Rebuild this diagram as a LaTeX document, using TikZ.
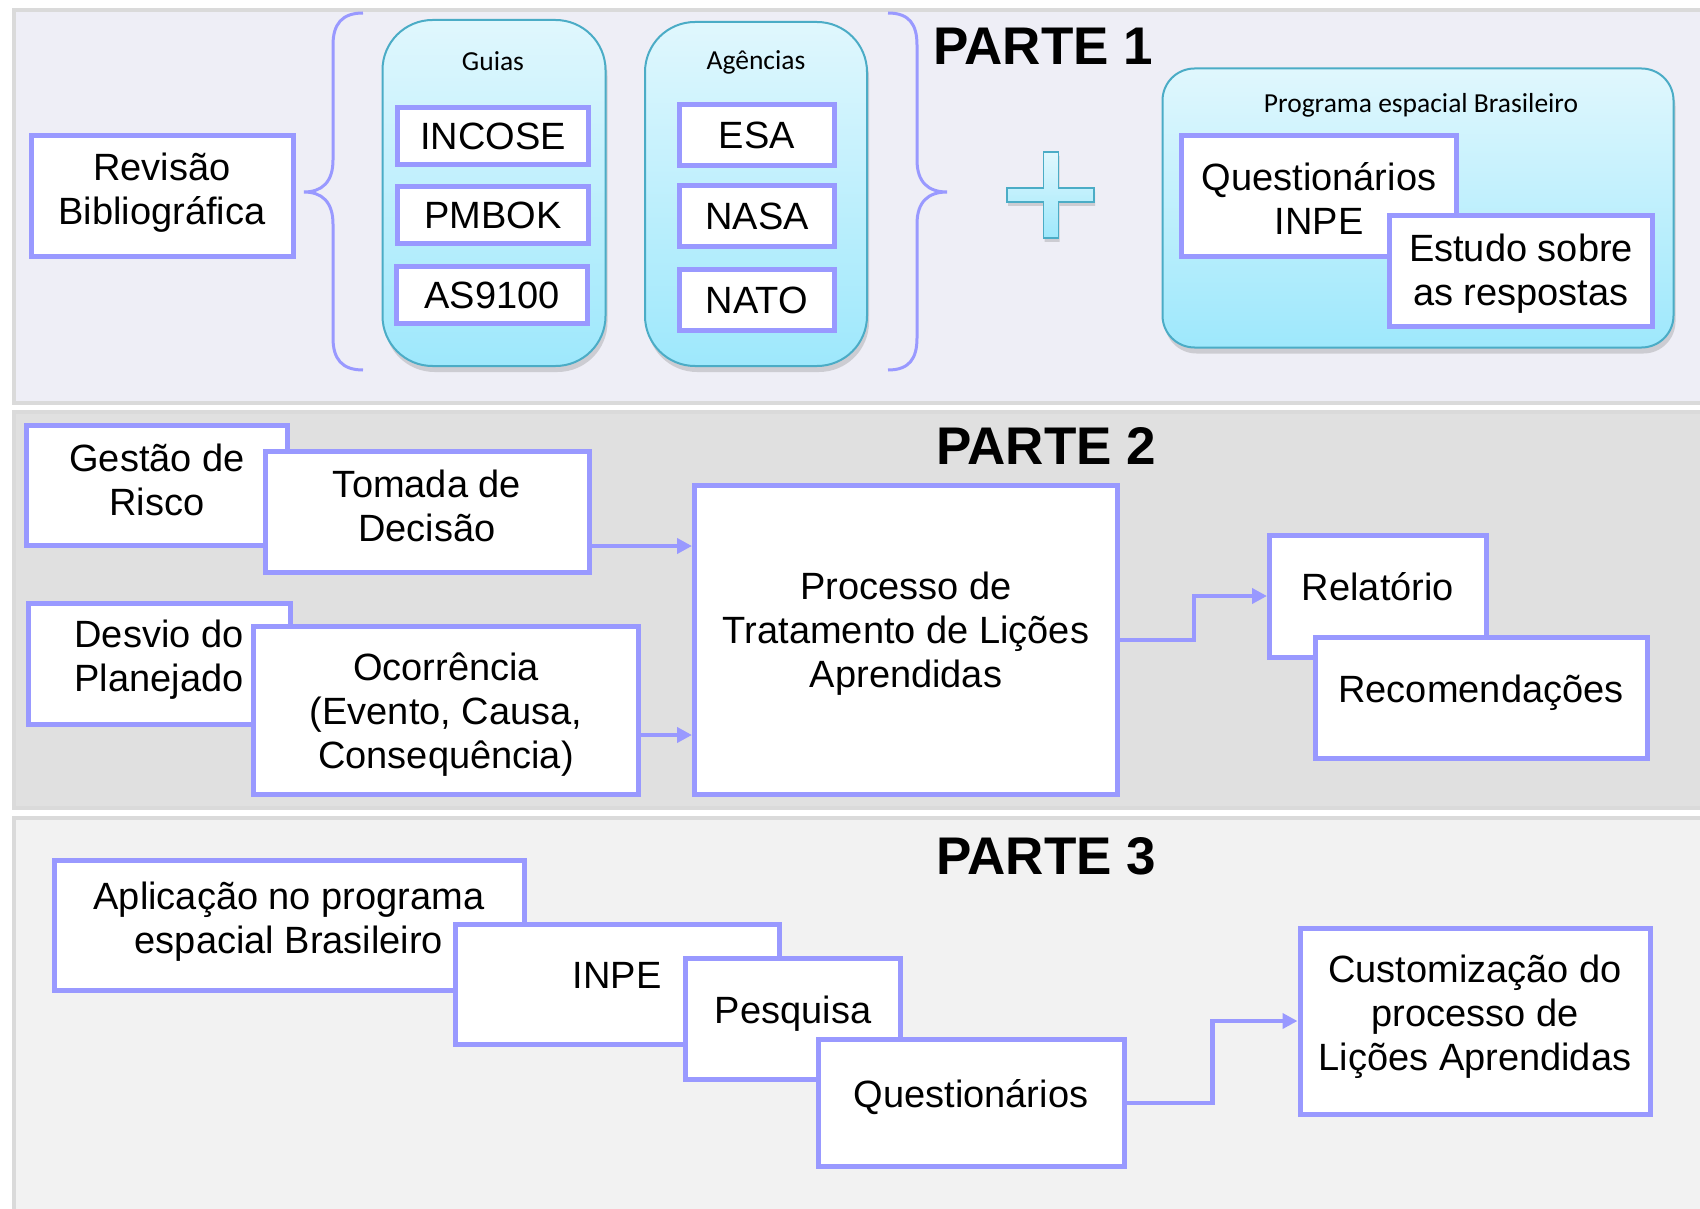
\documentclass[tikz,border=0pt]{standalone}
\usepackage{fontspec}
\setmainfont{Liberation Sans}
\newfontfamily\calibri{Carlito}
\usetikzlibrary{arrows.meta,shadows,positioning}

\definecolor{lila}{RGB}{153,153,255}
\definecolor{borda}{RGB}{75,172,198}
\definecolor{cianoA}{RGB}{224,247,253}
\definecolor{cianoB}{RGB}{158,232,252}
\definecolor{fundoA}{RGB}{238,238,246}
\definecolor{fundoB}{RGB}{224,224,224}
\definecolor{fundoC}{RGB}{242,242,242}
\definecolor{cinza}{RGB}{218,218,218}

\tikzset{
	bloco/.style = {draw=lila, line width=5pt, fill=white, inner sep=0pt, align=center,
		font=\fontsize{38}{44}\selectfont},
	alto/.style = {execute at begin node={\rule{0pt}{#1}}},
	alto/.default = 36pt,
	fundo/.style = {execute at end node={\rule[-#1]{0pt}{#1}}},
	fundo/.default = 27pt,
	caixa/.style = {bloco, alto, fundo},
	grupo/.style = {draw=borda, line width=2pt, top color=cianoA, bottom color=cianoB,
		drop shadow={shadow xshift=2pt, shadow yshift=-6pt, opacity=.3}},
	seta/.style = {lila, line width=4.5pt, -{Triangle[length=15pt,width=15pt]}},
	parte/.style = {font=\bfseries\fontsize{53}{60}\selectfont},
	chave/.style = {lila, line width=3pt},
	painel/.style = {draw=cinza, line width=4pt},
	rotulo/.style = {font=\calibri\fontsize{27.5}{32}\selectfont}
}

\begin{document}
\begin{tikzpicture}[x=1pt, y=-1pt]
	\clip (0,0) rectangle (1700,1209);
	\fill[white] (0,0) rectangle (1700,1209);
	\draw[painel, fill=fundoA] (14,10) rectangle (1730,403);
	\draw[painel, fill=fundoB] (14,412) rectangle (1730,808);
	\draw[painel, fill=fundoC] (14,818) rectangle (1730,1240);

	% parte 1
	\node[bloco, fundo=15pt, minimum width=262, minimum height=121] (revisao) at (162,196) {Revis\~ao\\Bibliogr\'afica};
	\draw[chave] (363,13) .. controls (342,13) and (333,24) .. (333,45) -- (333,160)
		.. controls (333,182) and (322,192) .. (304,192) .. controls (322,192) and (333,202) .. (333,224)
		-- (333,338) .. controls (333,359) and (342,370) .. (363,370);
	\draw[chave] (888,13) .. controls (909,13) and (917,24) .. (917,45) -- (917,160)
		.. controls (917,182) and (928,192) .. (947,192) .. controls (928,192) and (917,202) .. (917,224)
		-- (917,338) .. controls (917,359) and (909,370) .. (888,370);
	\node[grupo, rounded corners=50pt, minimum width=223, minimum height=346] (guias) at (494,193) {};
	\node[rotulo] (guiasTxt) at (493,61) {Guias};
	\node[bloco, minimum width=191, minimum height=57] (incose) at (493,136) {INCOSE};
	\node[bloco, minimum width=191, minimum height=57] (pmbok) at (493,215) {PMBOK};
	\node[bloco, minimum width=191, minimum height=57] (as9100) at (492,295) {AS9100};
	\node[grupo, rounded corners=50pt, minimum width=222, minimum height=344] (agencias) at (756,194) {};
	\node[rotulo] (agenciasTxt) at (756,62) {Ag\^encias};
	\node[bloco, minimum width=155, minimum height=61] (esa) at (757,135) {ESA};
	\node[bloco, minimum width=155, minimum height=61] (nasa) at (757,216) {NASA};
	\node[bloco, minimum width=155, minimum height=61] (nato) at (757,300) {NATO};
	\node[parte] (parte1) at (1043,46) {PARTE 1};
	\shade[top color=cianoA, bottom color=cianoB, draw=borda, line width=1.5pt,
		drop shadow={shadow xshift=1pt, shadow yshift=-4pt, opacity=.3}]
		(1043.5,152) -- (1058.5,152) -- (1058.5,188) -- (1094,188) -- (1094,202) -- (1058.5,202)
		-- (1058.5,238) -- (1043.5,238) -- (1043.5,202) -- (1007,202) -- (1007,188) -- (1043.5,188) -- cycle;
	\node[grupo, rounded corners=32pt, minimum width=511, minimum height=279] (programa) at (1418,208) {};
	\node[rotulo] (programaTxt) at (1421,105) {Programa espacial Brasileiro};
	\node[bloco, alto=77pt, minimum width=275, minimum height=121] (qinpe) at (1319,196) {Question\'arios\\INPE};
	\node[bloco, alto=76pt, minimum width=263, minimum height=110] (estudo) at (1521,271) {Estudo sobre\\as respostas};

	% parte 2
	\node[parte] (parte2) at (1046,446) {PARTE 2};
	\node[bloco, fundo=11pt, minimum width=261, minimum height=120] (gestao) at (157,485) {Gest\~ao de\\Risco};
	\node[bloco, fundo=13.5pt, minimum width=324, minimum height=121] (tomada) at (427,512) {Tomada de\\Decis\~ao};
	\node[bloco, fundo=16.5pt, minimum width=262, minimum height=121] (desvio) at (159,664) {Desvio do\\Planejado};
	\node[bloco, alto=125pt, minimum width=385, minimum height=168] (ocorrencia) at (446,710) {Ocorr\^encia\\(Evento, Causa,\\Consequ\^encia)};
	\node[bloco, fundo=21pt, minimum width=423, minimum height=309] (processo) at (906,640) {Processo de\\Tratamento de Li\c c\~oes\\Aprendidas};
	\node[caixa, minimum width=217, minimum height=122] (relatorio) at (1378,596) {Relat\'orio};
	\node[caixa, minimum width=332, minimum height=121] (recomend) at (1481,698) {Recomenda\c c\~oes};
	\draw[seta] ([yshift=-34pt]tomada.east) -- ([yshift=-34pt]tomada.east -| processo.west);
	\draw[seta] ([yshift=-25pt]ocorrencia.east) -- ([yshift=-25pt]ocorrencia.east -| processo.west);
	\draw[seta] (processo.east) -- ++(74,0) |- (relatorio.west);

	% parte 3
	\node[parte] (parte3) at (1046,856) {PARTE 3};
	\node[bloco, fundo=14.5pt, minimum width=470, minimum height=130] (aplicacao) at (289,925) {Aplica\c c\~ao no programa\\espacial Brasileiro};
	\node[caixa, minimum width=324, minimum height=120] (inpe) at (617,984) {INPE};
	\node[caixa, minimum width=215, minimum height=121] (pesquisa) at (793,1019) {Pesquisa};
	\node[caixa, minimum width=306, minimum height=127] (quest) at (971,1103) {Question\'arios};
	\node[bloco, fundo=16.5pt, minimum width=350, minimum height=186] (custom) at (1475,1021) {Customiza\c c\~ao do\\processo de\\Li\c c\~oes Aprendidas};
	\draw[seta] (quest.east) -- ++(86,0) |- (custom.west);
\end{tikzpicture}
\end{document}
